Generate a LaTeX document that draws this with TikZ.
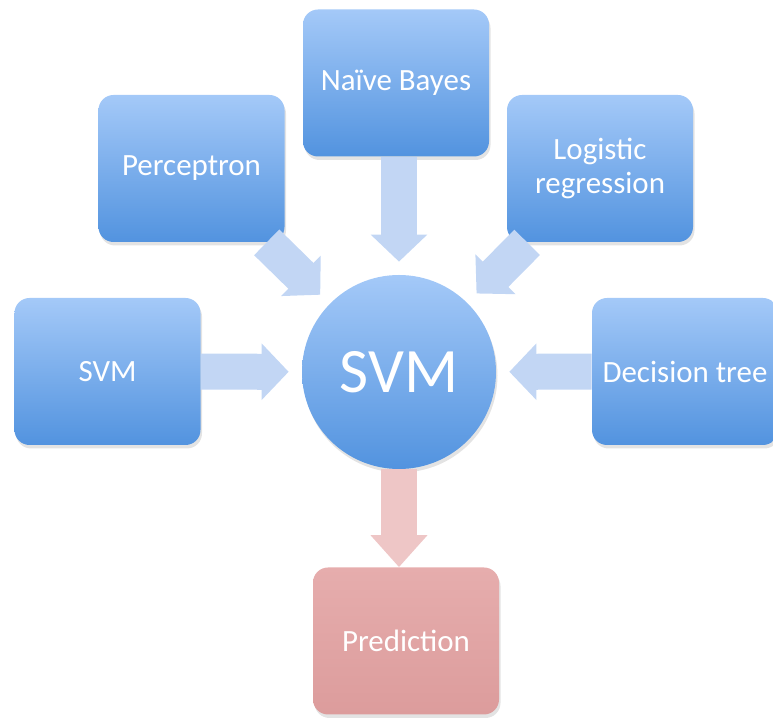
\documentclass[tikz,border=0pt]{standalone}
\usepackage{fontspec}
\setmainfont{Carlito}
\usetikzlibrary{arrows.meta, shadows}
\definecolor{boxtop}{HTML}{A4C9F8}
\definecolor{boxbot}{HTML}{5293DF}
\definecolor{predtop}{HTML}{E6ADAD}
\definecolor{predbot}{HTML}{DC9C9C}
\definecolor{flowblue}{HTML}{C2D6F4}
\definecolor{flowpink}{HTML}{EEC6C6}
\tikzset{
  % Boxes and hub
  modelbox/.style = { rounded corners=0.3cm, minimum width=3.72cm, minimum height=2.94cm,
                      align=center, text=white, font=\fontsize{17.6}{19}\selectfont,
                      top color=boxtop, bottom color=boxbot,
                      drop shadow={opacity=0.22, shadow xshift=0.03cm, shadow yshift=-0.07cm} },
  predbox/.style  = { modelbox, top color=predtop, bottom color=predbot },
  hub/.style      = { circle, minimum size=3.88cm, inner sep=0, text=white,
                      font=\fontsize{36}{40}\selectfont,
                      top color=boxtop, bottom color=boxbot,
                      drop shadow={opacity=0.22, shadow xshift=0.03cm, shadow yshift=-0.07cm} },
  % Fat flow arrows
  fatflow/.style  = { line width=0.72cm, draw=flowblue,
                      -{Triangle[length=0.54cm, width=1.1cm, fill=flowblue]},
                      shorten >=0.26cm },
  outflow/.style  = { fatflow, draw=flowpink,
                      -{Triangle[length=0.64cm, width=1.1cm, fill=flowpink]}, shorten >=0pt }
}
\begin{document}
\begin{tikzpicture}
  \useasboundingbox (0,0) rectangle (15.46,14.46);

  % --- Hub and model boxes (positions taken from the layout) --------
  \node[hub] (core) at (7.98,7.02) {SVM};

  \node[modelbox] (bayes)  at (7.92,12.8)  {Naïve Bayes};
  \node[modelbox] (percep) at (3.83,11.09) {Perceptron};
  \node[modelbox] (logreg) at (12.0,11.09) {Logistic\\regression};
  \node[modelbox] (svmin)  at (2.15,7.03)  {SVM};
  \node[modelbox] (dtree)  at (13.7,7.03)  {Decision tree};
  \node[predbox]  (pred)   at (8.12,1.64)  {Prediction};

  % --- Flows into the hub, then out to the prediction ---------------
  \foreach \n in {percep,logreg,svmin,dtree}
    \draw[fatflow] (\n) -- (core);
  \draw[fatflow] (bayes.south -| core) -- (core.north);
  \draw[outflow] (core.south) -- (core.south |- pred.north);

\end{tikzpicture}
\end{document}
